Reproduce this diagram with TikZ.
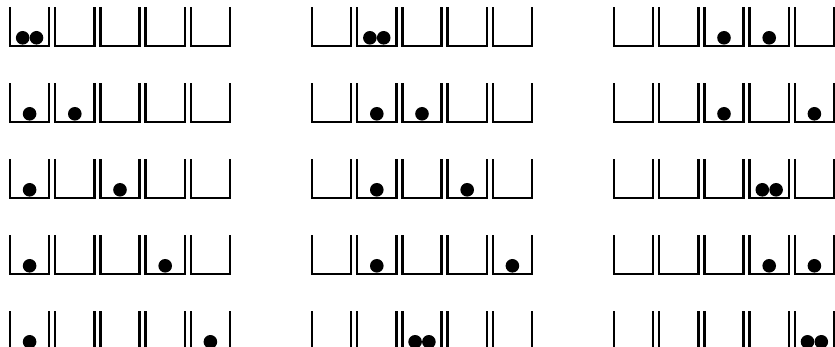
\documentclass[tikz,border=0pt]{standalone}
\begin{document}
\begin{tikzpicture}[x=1pt,y=-1pt,
  boxline/.style={line width=2.3pt,line cap=butt,line join=miter,black},
  ballfill/.style={fill=black}]
\useasboundingbox (0,0) rectangle (835,347);
\clip (0,0) rectangle (835,347);
\newcommand\boxcfg[3]{%
  \foreach \k in {0,...,4}{%
    \draw[boxline] ({#1+45.2*\k},#2) -- ({#1+45.2*\k},{#2+38.4}) -- ({#1+45.2*\k+39.2},{#2+38.4}) -- ({#1+45.2*\k+39.2},#2);
  }%
  \foreach \b/\o in {#3}{%
    \fill[ballfill] ({#1+45.2*(\b-1)+19.6+6.9*\o},{#2+38.4-1.1-6.8}) circle[radius=6.8pt];
  }%
}
% column 1
\boxcfg{10}{7.3}{1/-1,1/1}
\boxcfg{10}{83.3}{1/0,2/0}
\boxcfg{10}{159.3}{1/0,3/0}
\boxcfg{10}{235.3}{1/0,4/0}
\boxcfg{10}{311.3}{1/0,5/0}
% column 2
\boxcfg{312}{7.3}{2/-1,2/1}
\boxcfg{312}{83.3}{2/0,3/0}
\boxcfg{312}{159.3}{2/0,4/0}
\boxcfg{312}{235.3}{2/0,5/0}
\boxcfg{312}{311.3}{3/-1,3/1}
% column 3
\boxcfg{614}{7.3}{3/0,4/0}
\boxcfg{614}{83.3}{3/0,5/0}
\boxcfg{614}{159.3}{4/-1,4/1}
\boxcfg{614}{235.3}{4/0,5/0}
\boxcfg{614}{311.3}{5/-1,5/1}
\end{tikzpicture}
\end{document}
